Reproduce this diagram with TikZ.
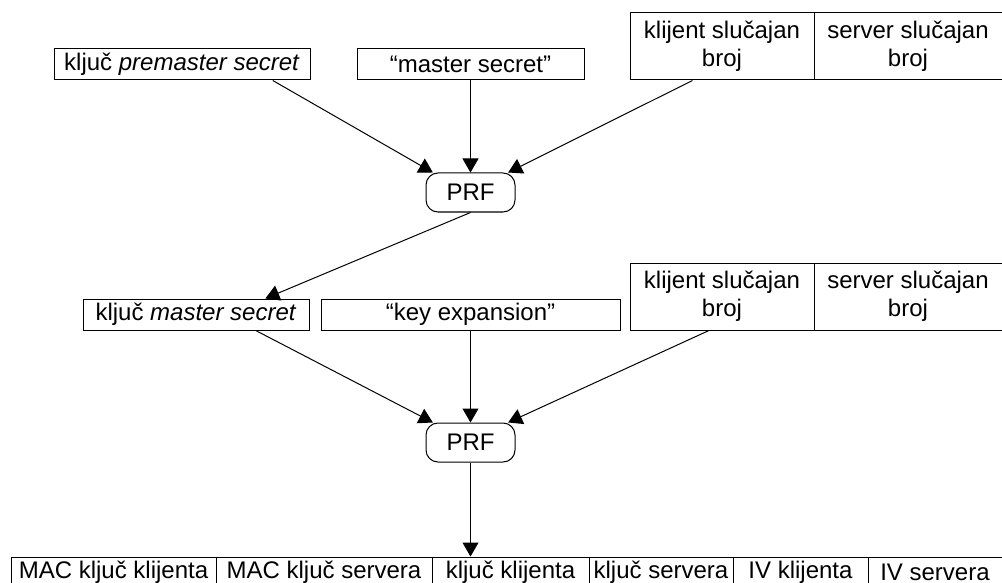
\documentclass[tikz,border=0pt]{standalone}
\usepackage{fontspec}
\setmainfont{Liberation Sans}
\usetikzlibrary{arrows.meta}
\tikzset{
  cell/.style={draw, line width=0.5pt, inner sep=0pt, align=center,
    font=\fontsize{12pt}{14pt}\selectfont},
  onerow/.style={cell, minimum height=15.5pt},
  tworow/.style={cell, minimum height=33.5pt},
  prfbox/.style={cell, rounded corners=6pt, minimum width=44.5pt, minimum height=19.5pt},
  flow/.style={line width=0.5pt, -{Triangle[width=8pt,length=7pt]}}
}

\begin{document}
\begin{tikzpicture}[x=0.5pt, y=-0.5pt]
  \useasboundingbox (0,0) rectangle (1002,583);

  % First round inputs
  \node[onerow, minimum width=128pt] (pms) at (182,64.5) {ključ \textit{premaster secret}};
  \node[onerow, minimum width=113.5pt] (msl) at (470.5,64.5) {“master secret”};
  \node[tworow, minimum width=92pt] (cra) at (722,46.5) {klijent slučajan\\broj};
  \node[tworow, minimum width=94pt] (sra) at (908,46.5) {server slučajan\\broj};
  \node[prfbox] (prfa) at (470.5,192.5) {PRF};

  % Second round inputs
  \node[onerow, minimum width=113pt] (mks) at (196,314.5) {ključ \textit{master secret}};
  \node[onerow, minimum width=149.5pt] (kex) at (470.5,314.5) {“key expansion”};
  \node[tworow, minimum width=92pt] (crb) at (722,296.5) {klijent slučajan\\broj};
  \node[tworow, minimum width=94pt] (srb) at (908,296.5) {server slučajan\\broj};
  \node[prfbox] (prfb) at (470.5,442.5) {PRF};

  % Key block
  \node[onerow, minimum width=102.5pt] (mkc) at (113.5,572.5) {MAC ključ klijenta};
  \node[onerow, minimum width=108pt] (mks2) at (324,572.5) {MAC ključ servera};
  \node[onerow, minimum width=78.5pt] (kc) at (510.5,572.5) {ključ klijenta};
  \node[onerow, minimum width=72pt] (ks) at (661,572.5) {ključ servera};
  \node[onerow, minimum width=67.5pt] (ivc) at (800.5,572.5) {IV klijenta};
  \node[onerow, minimum width=67pt] (ivs) at (935,572.5) {IV servera};

  % Arrows
  \draw[flow] (pms.-10) -- (prfa.152);
  \draw[flow] (msl.south) -- (prfa.north);
  \draw[flow] (cra.229) -- (prfa.28);
  \draw[flow] (prfa.south) -- (mks.13);
  \draw[flow] (mks.-15) -- (prfb.152);
  \draw[flow] (kex.south) -- (prfb.north);
  \draw[flow] (crb.249) -- (prfb.28);
  \draw[flow] (prfb.south) -- (prfb.south |- kc.north);
\end{tikzpicture}
\end{document}
